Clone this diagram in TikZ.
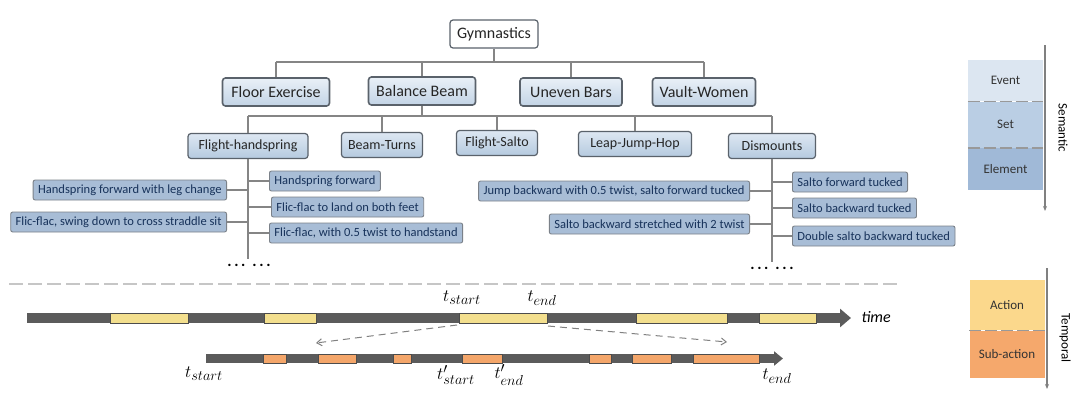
\documentclass[tikz,border=0pt]{standalone}
\usepackage{amsmath}
\usepackage{fontspec}
\setmainfont{Carlito}
\usetikzlibrary{arrows.meta,positioning}

\definecolor{boxgray}{HTML}{5A626B}
\definecolor{linkgray}{HTML}{858585}
\definecolor{evtop}{HTML}{E9F0F7}
\definecolor{evbot}{HTML}{C3D4E6}
\definecolor{settop}{HTML}{DDE7F2}
\definecolor{setbot}{HTML}{B5CADF}
\definecolor{elfill}{HTML}{A8BDD6}
\definecolor{eltext}{HTML}{17325A}
\definecolor{evcol}{HTML}{DCE6F1}
\definecolor{setcol}{HTML}{BACEE4}
\definecolor{elcol}{HTML}{A0B9D7}
\definecolor{actcol}{HTML}{FBD88C}
\definecolor{subcol}{HTML}{F5A86C}
\definecolor{bargray}{HTML}{5B5B5B}
\definecolor{actseg}{HTML}{F3DF8E}
\definecolor{subseg}{HTML}{F4A66A}

\begin{document}
\begin{tikzpicture}[
    x=1pt, y=-1pt,
    box/.style={draw=boxgray, rounded corners=3pt, line width=1.2pt, inner sep=0pt, text=black!85},
    topbox/.style={box, fill=white, minimum width=88pt, minimum height=28pt, font=\fontsize{16}{18}\selectfont},
    evtbox/.style={box, line width=1.6pt, top color=evtop, bottom color=evbot, minimum height=28pt, font=\fontsize{16}{18}\selectfont},
    setbox/.style={box, top color=settop, bottom color=setbot, minimum height=25pt, font=\fontsize{14}{16}\selectfont},
    elembox/.style={box, draw=boxgray!80, line width=0.9pt, rounded corners=2pt, fill=elfill, text=eltext, minimum height=20pt, inner xsep=5pt, font=\fontsize{12.5}{14}\selectfont},
    link/.style={draw=linkgray, line width=1.5pt},
    legbox/.style={minimum width=75pt, inner sep=0pt, font=\fontsize{13}{14}\selectfont, text=black!80},
    legsep/.style={draw=gray!80, line width=1.5pt, dash pattern=on 12pt off 4pt},
    axisarr/.style={draw=gray, line width=1.2pt, -{Stealth[length=5pt,width=4pt]}},
    actbar/.style={draw=black!70, line width=0.8pt, fill=actseg},
    subbar/.style={draw=black!70, line width=0.8pt, fill=subseg},
    zoomarr/.style={draw=gray, line width=1pt, dash pattern=on 7pt off 5pt, -{Straight Barb[length=5pt,width=7pt]}},
    tlab/.style={font=\fontsize{19}{20}\selectfont}
]
\useasboundingbox (0,0) rectangle (1080,397);

% tree: event and sets
\node[topbox] (gym) at (494,34) {Gymnastics};
\node[evtbox, minimum width=107pt] (floor) at (276,92) {Floor Exercise};
\node[evtbox, minimum width=107pt] (beam) at (422,91) {Balance Beam};
\node[evtbox, minimum width=102pt] (bars) at (571,92) {Uneven Bars};
\node[evtbox, minimum width=103pt] (vault) at (704,92) {Vault-Women};

\node[setbox, minimum width=120pt] (fhs) at (248,146) {Flight-handspring};
\node[setbox, minimum width=81pt] (turns) at (382,145) {Beam-Turns};
\node[setbox, minimum width=81pt] (salto) at (497,143) {Flight-Salto};
\node[setbox, minimum width=113pt] (leap) at (635,144) {Leap-Jump-Hop};
\node[setbox, minimum width=87pt] (dism) at (772,146) {Dismounts};

\coordinate (bus1) at (494,62);
\coordinate (bus2) at (422,116);
\draw[link] (gym.south) -- (bus1);
\draw[link] (floor.north |- bus1) -- (vault.north |- bus1);
\foreach \n in {floor,beam,bars,vault}
    \draw[link] (\n.north |- bus1) -- (\n.north);
\draw[link] (beam.south) -- (bus2);
\draw[link] (fhs.north |- bus2) -- (dism.north |- bus2);
\foreach \n in {fhs,turns,salto,leap,dism}
    \draw[link] (\n.north |- bus2) -- (\n.north);

% tree: elements
\coordinate (fhend) at (248,259);
\coordinate (dmend) at (772,262);
\draw[link] (fhs.south) -- (fhend);
\draw[link] (dism.south) -- (dmend);

\node[elembox, anchor=east] (hleg) at (227,190) {Handspring forward with leg change};
\node[elembox, anchor=east] (fswing) at (227,222) {Flic-flac, swing down to cross straddle sit};
\node[elembox, anchor=west] (hfwd) at (269,181) {Handspring forward};
\node[elembox, anchor=west] (fland) at (271,207) {Flic-flac to land on both feet};
\node[elembox, anchor=west] (ftwist) at (269,233) {Flic-flac, with 0.5 twist to handstand};
\node[elembox, anchor=east] (jback) at (750,191) {Jump backward with 0.5 twist, salto forward tucked};
\node[elembox, anchor=east] (sstr) at (750,224) {Salto backward stretched with 2 twist};
\node[elembox, anchor=west] (sfwd) at (792,182) {Salto forward tucked};
\node[elembox, anchor=west] (sback) at (792,208) {Salto backward tucked};
\node[elembox, anchor=west] (dsalto) at (792,236) {Double salto backward tucked};

\foreach \n in {hleg,fswing}
    \draw[link] (\n.east) -- (\n.east -| fhend);
\foreach \n in {hfwd,fland,ftwist}
    \draw[link] (\n.west) -- (\n.west -| fhend);
\foreach \n in {jback,sstr}
    \draw[link] (\n.east) -- (\n.east -| dmend);
\foreach \n in {sfwd,sback,dsalto}
    \draw[link] (\n.west) -- (\n.west -| dmend);

\node[font=\bfseries\fontsize{16}{16}\selectfont] (dotsa) at (249,265) {.\,.\,.\hspace{7pt}.\,.\,.};
\node[font=\bfseries\fontsize{16}{16}\selectfont] (dotsb) at (772,268) {.\,.\,.\hspace{7pt}.\,.\,.};

% separator
\coordinate (sepl) at (9,284);
\coordinate (sepr) at (900,284);
\draw[draw=gray!45, line width=2.5pt, dash pattern=on 14pt off 5pt] (sepl) -- (sepr);

% timelines
\draw[bargray, line width=10pt, -{Triangle[length=11pt,width=18pt]}] (27,318) -- (851,318);
\foreach \a/\b in {110/188,264/316,459/547,636/727,759/816}
    \draw[actbar] (\a,313) rectangle (\b,323);
\draw[bargray, line width=9pt, -{Triangle[length=9pt,width=14pt]}] (206,358.5) -- (783,358.5);
\foreach \a/\b in {263/286,318/356,393/411,462/502,589/611,632/671,693/759}
    \draw[subbar] (\a,354) rectangle (\b,363);

\node[font=\itshape\fontsize{16}{18}\selectfont, anchor=west] (time) at (858,317) {time};
\node[tlab] (tsa) at (462,298) {$t_{start}$};
\node[tlab] (tea) at (542,298) {$t_{end}$};
\node[tlab] (tsb) at (204,374) {$t_{start}$};
\node[tlab] (tsc) at (456,375) {$t'_{start}$};
\node[tlab] (tec) at (509,375) {$t'_{end}$};
\node[tlab] (teb) at (777,376) {$t_{end}$};

\coordinate (ts) at (457,325);
\coordinate (te) at (548,326);
\coordinate (zl) at (316,343);
\coordinate (zr) at (727,342);
\draw[zoomarr] (ts) -- (zl);
\draw[zoomarr] (te) -- (zr);

% legend: semantic
\node[legbox, fill=evcol, minimum height=41pt, anchor=north] (lev) at (1005.5,60) {Event};
\node[legbox, fill=setcol, minimum height=46pt, below=0pt of lev] (lset) {Set};
\node[legbox, fill=elcol, minimum height=42pt, below=0pt of lset] (lel) {Element};
\draw[legsep] (lev.south west) -- (lev.south east);
\draw[legsep] (lset.south west) -- (lset.south east);
\coordinate (semtop) at (1045,45);
\coordinate (sembot) at (1045,211);
\draw[axisarr] (semtop) -- (sembot);
\node[rotate=-90, font=\fontsize{13}{14}\selectfont] (sem) at (1063,128) {Semantic};

% legend: temporal
\node[legbox, fill=actcol, minimum height=50pt, anchor=north] (lact) at (1007,280) {Action};
\node[legbox, fill=subcol, minimum height=47pt, below=0pt of lact] (lsub) {Sub-action};
\draw[legsep] (lact.south west) -- (lact.south east);
\coordinate (temtop) at (1047,268);
\coordinate (tembot) at (1047,389);
\draw[axisarr] (temtop) -- (tembot);
\node[rotate=-90, font=\fontsize{13}{14}\selectfont] (tem) at (1065,338) {Temporal};
\end{tikzpicture}
\end{document}
